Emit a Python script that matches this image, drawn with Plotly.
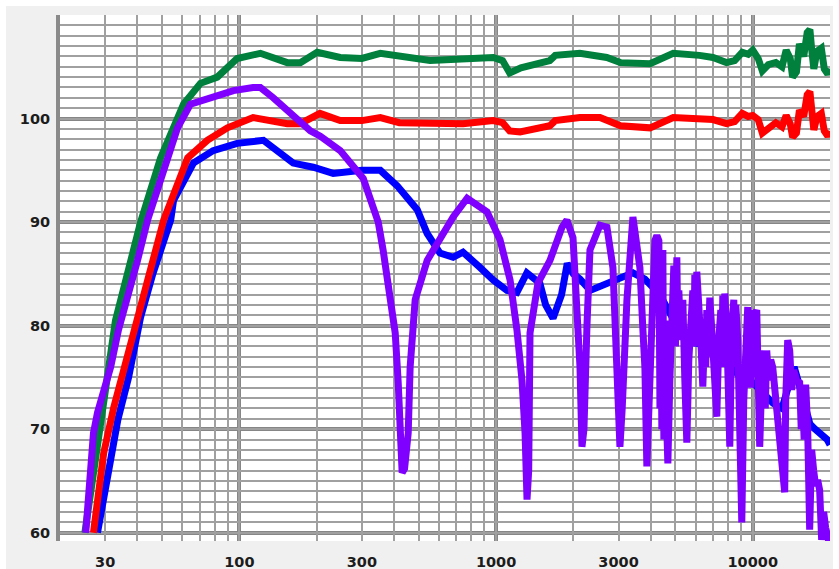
import math
import plotly.graph_objects as go

# ---------------- data (frequency in Hz, level in dB) ----------------
green_f = [25.0, 27.0, 30.6, 32.9, 38.4, 41.2, 49.3, 60.6, 70.5, 82.0, 98.0, 120.7, 153.7, 172.7,
           201, 247, 300, 354, 553, 743, 975, 1060, 1130, 1250, 1355, 1620, 1700, 2120, 2700, 3050,
           3980, 4900, 6200, 7000, 7900, 8500, 9100, 9600, 10000, 10500, 10900, 11500, 12300, 13000,
           13500, 14000, 14300, 14800, 15200, 15800, 16300, 16700, 17000, 17300, 17800, 18500, 19000,
           19600, 20000]
green_db = [60.0, 66.0, 74.7, 80.5, 87.0, 90.0, 96.2, 101.4, 103.4, 104.0, 105.8, 106.3, 105.4, 105.4,
            106.4, 105.9, 105.8, 106.3, 105.6, 105.7, 105.9, 105.6, 104.4, 104.9, 105.1, 105.6, 106.1, 106.3, 105.9, 105.4,
            105.3, 106.3, 106.1, 105.9, 105.4, 105.6, 106.4, 106.2, 106.6, 105.8, 104.6, 105.2, 105.4, 105.0,
            106.6, 105.8, 104.0, 104.5, 107.2, 106.0, 108.3, 108.6, 106.5, 104.8, 106.5, 106.8, 104.8,
            104.3, 104.8]

red_f = [27.0, 29.6, 32.4, 36.7, 41.2, 46.0, 50.7, 62.9, 75.0, 89.8, 113, 153.7, 172.7, 206, 247,
         300, 354, 420, 553, 743, 975, 1060, 1130, 1240, 1620, 1700, 2120, 2540, 3050, 3980, 4900,
         6200, 7000, 7900, 8500, 9100, 9600, 10000, 10500, 10900, 11500, 12300, 13000, 13500, 14000,
         14300, 14800, 15200, 15800, 16300, 16700, 17000, 17300, 17800, 18500, 19000, 19600, 20000]
red_db = [60.0, 67.7, 72.1, 77.3, 81.8, 86.6, 90.2, 96.2, 97.9, 99.1, 100.1, 99.5, 99.5, 100.5, 99.8,
          99.8, 100.1, 99.6, 99.5, 99.5, 99.8, 99.6, 98.8, 98.7, 99.3, 99.8, 100.1, 100.1, 99.3, 99.1, 100.1,
          100.0, 99.9, 99.5, 99.7, 100.5, 100.2, 100.3, 99.9, 98.6, 99.0, 99.6, 99.2, 100.3, 99.5,
          98.2, 98.6, 100.8, 100.2, 102.3, 102.6, 100.5, 98.9, 100.2, 100.5, 98.8, 98.3, 98.8]

blue_f = [28.0, 30.0, 33.6, 37.0, 41.2, 46.0, 54.0, 55.4, 66.2, 79.0, 98.0, 124, 140, 162, 194, 232,
          300, 354, 412, 493, 539, 605, 680, 743, 867, 975, 1104, 1205, 1318, 1481, 1560, 1667,
          1800, 1894, 2000, 2123, 2327, 2704, 3413, 3800, 4345, 5058, 5533, 6053, 6800, 7800, 9000,
          10000, 11300, 12000, 13000, 14000, 14500, 15500, 16700, 17500, 18500, 19500, 20000]
blue_db = [60.0, 64.0, 70.9, 75.0, 80.8, 85.0, 90.2, 92.1, 95.7, 96.9, 97.6, 97.9, 96.9, 95.7, 95.3, 94.7,
           95.0, 95.0, 93.5, 91.2, 88.9, 87.0, 86.6, 87.1, 85.6, 84.4, 83.4, 83.2, 85.1, 84.1, 82.0, 80.7,
           83.0, 86.0, 85.0, 84.5, 83.4, 84.1, 85.1, 84.5, 83.0, 80.0, 78.5, 78.3, 78.0, 76.5, 75.0,
           74.5, 73.0, 72.5, 72.0, 75.0, 76.0, 73.5, 70.5, 70.0, 69.5, 69.0, 68.5]

purple_f = [25.2, 25.9, 27.0, 28.0, 29.6, 31.5, 33.8, 36.7, 40.1, 43.9, 50.6, 57.4, 64.5, 77.1, 94.8,
            113, 120.7, 135.6, 157.9, 189, 206.6, 247, 303.8, 323.6, 347.5, 363, 387, 404.6, 415.6,
            423, 430.6, 440, 454.6, 462.6, 484, 539, 605.5, 680.7, 771.5, 866.6, 922, 1036, 1134,
            1207, 1262, 1297, 1320, 1340, 1356, 1456, 1622, 1806, 1888, 1994, 2066, 2123, 2161, 2200,
            2260, 2322, 2540, 2704, 2853, 2958, 3038, 3100, 3235, 3413,
            3634, 3733, 3800, 3868, 3938, 4009, 4082, 4156, 4231, 4308, 4350, 4385, 4425, 4465, 4505,
            4546, 4600, 4670, 4754, 4840, 4927, 5000, 5062, 5110, 5154, 5246, 5341, 5438, 5536, 5636,
            5738, 5842, 5900, 5947, 6000, 6055, 6165, 6276, 6389, 6505, 6560, 6622, 6700, 6803, 6926,
            7051, 7244, 7375, 7508, 7570, 7644, 7710, 7782, 7923, 8066, 8139, 8286, 8437, 8510, 8589,
            8745, 8903, 9064, 9228, 9394, 9562, 9650, 9734, 9820, 9911, 10050, 10180, 10366, 10552,
            10647, 10839, 11035, 11190, 11337, 11543, 11749, 11962, 12289, 12625, 12967, 13321, 13441,
            13684, 13932, 14183, 14438, 14833, 15235, 15450, 15652, 15860, 16078, 16369, 16666, 16967,
            17276, 17585, 17902, 18228, 18558, 18893, 19231, 19580, 19936]
purple_db = [60.0, 64.4, 69.6, 71.6, 73.5, 76.0, 79.6, 82.7, 86.3, 90.2, 94.7, 99.1, 101.4, 102.0, 102.7,
             103.0, 103.0, 102.0, 100.5, 98.8, 98.3, 96.9, 94.2, 92.1, 90.0, 87.3, 83.1, 79.3, 74.5,
             69.6, 65.8, 66.2, 69.6, 76.0, 82.5, 86.3, 88.5, 90.5, 92.3, 91.4, 91.0, 88.3, 84.4,
             79.5, 74.7, 69.6, 63.2, 66.0, 79.3, 84.1, 86.3, 89.5, 90.2, 88.5, 82.5, 76.0, 68.3, 70.0,
             80.0, 87.3, 89.7, 89.5, 85.6, 77.6, 68.3, 72.0, 82.5, 90.5,
             85.6, 79.6, 76.0, 66.4, 72.8, 80.5, 85.3, 88.2, 88.7, 88.2, 72.0, 82.5, 70.0, 87.3, 69.0,
             80.5, 72.0, 66.7, 74.7, 82.5, 85.8, 78.0, 86.6, 79.0, 83.4, 78.6, 82.5, 74.7, 68.7, 76.7,
             80.5, 83.4, 78.0, 84.9, 79.0, 85.2, 82.5, 78.6, 74.1, 79.6, 76.0, 81.5, 77.0, 82.7, 79.6,
             75.7, 71.2, 78.6, 81.5, 76.0, 82.9, 77.0, 83.1, 79.6, 73.8, 68.3, 79.6, 82.5, 76.0, 82.0,
             78.6, 70.9, 61.0, 72.8, 80.5, 81.8, 75.0, 79.6, 74.0, 81.5, 75.0, 81.0, 81.5, 74.7,
             68.3, 74.7, 77.6, 72.0, 77.6, 74.7, 76.7, 76.0, 72.8, 69.0, 67.0, 63.9, 72.8,
             78.6, 77.6, 73.8, 75.7, 74.7, 74.5, 70.0, 72.8, 69.0, 74.3, 70.0, 60.3, 68.0,
             66.0, 64.5, 65.1, 64.1, 59.3, 62.0, 60.5, 59.3, 58.8]

# ---------------- axes ----------------
grid_f = [20, 30, 40, 50, 60, 70, 80, 90, 100, 200, 300, 400, 500, 600, 700, 800, 900,
          1000, 2000, 3000, 4000, 5000, 6000, 7000, 8000, 9000, 10000, 20000]
x_labels = {30: "30", 100: "100", 300: "300", 1000: "1000", 3000: "3000", 10000: "10000"}
decade_f = [100, 1000, 10000]

grid_db = list(range(60, 111))
y_labels = {60: "60", 70: "70", 80: "80", 90: "90", 100: "100"}
decade_db = [60, 70, 80, 90, 100, 110]

series = [
    ("blue", blue_f, blue_db, "#0000ff"),
    ("red", red_f, red_db, "#ff0000"),
    ("green", green_f, green_db, "#00803c"),
    ("purple", purple_f, purple_db, "#8000ff"),
]

fig = go.Figure()
for name, fx, fy, col in series:
    fig.add_trace(go.Scatter(x=fx, y=fy, mode="lines", name=name,
                             line=dict(color=col, width=7), hoverinfo="skip"))

W, H = 839, 569
L, R, T, B = 60, 9, 15, 28
pw, ph = W - L - R, H - T - B


def px_x(p):
    return (p - L) / pw


def px_y(p):
    return (H - B - p) / ph


tick_font = dict(family="DejaVu Sans", size=14.5, color="#1c1c1c", weight="bold")

fig.update_layout(
    width=W, height=H,
    margin=dict(l=L, r=R, t=T, b=B),
    paper_bgcolor="#ffffff",
    plot_bgcolor="rgba(0,0,0,0)",
    showlegend=False,
    shapes=[
        dict(type="rect", xref="paper", yref="paper", layer="below",
             x0=px_x(6), x1=px_x(833), y0=px_y(H), y1=px_y(6),
             fillcolor="#f0f0f0", line=dict(width=0)),
        dict(type="rect", xref="paper", yref="paper", layer="below",
             x0=0, x1=1, y0=0, y1=1,
             fillcolor="#ffffff", line=dict(width=0)),
    ],
    xaxis=dict(
        type="log",
        range=[math.log10(20), math.log10(20000)],
        tickmode="array",
        tickvals=grid_f,
        ticktext=[x_labels.get(v, "") for v in grid_f],
        showgrid=True, gridcolor="#a0a0a0", gridwidth=2,
        ticks="outside", ticklen=8, tickcolor="rgba(0,0,0,0)",
        tickfont=tick_font,
        zeroline=False, showline=False, automargin=False,
        minor=dict(tickmode="array", tickvals=decade_f, showgrid=True,
                   gridcolor="#868686", gridwidth=4, ticks=""),
    ),
    yaxis=dict(
        range=[59.2, 110.0],
        tickmode="array",
        tickvals=grid_db,
        ticktext=[y_labels.get(v, "") for v in grid_db],
        showgrid=True, gridcolor="#a0a0a0", gridwidth=2,
        ticks="outside", ticklen=3, tickcolor="rgba(0,0,0,0)",
        tickfont=tick_font,
        zeroline=False, automargin=False,
        showline=True, linecolor="#8a8a8a", linewidth=4,
        minor=dict(tickmode="array", tickvals=decade_db, showgrid=True,
                   gridcolor="#868686", gridwidth=4, ticks=""),
    ),
)

fig.write_html("out.html")
